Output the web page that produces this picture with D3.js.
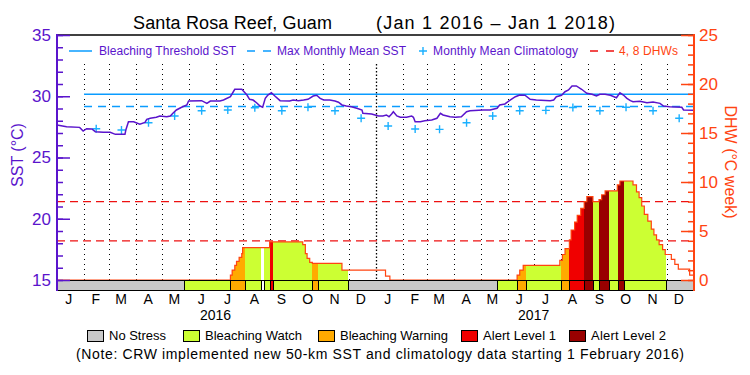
<!DOCTYPE html>
<html>
<head>
<meta charset="utf-8">
<script src="https://cdn.jsdelivr.net/npm/d3@7"></script>
<style>
body { margin: 0; background: #fff; }
svg { display: block; font-family: "Liberation Sans", Arial, sans-serif; }
</style>
</head>
<body>
<svg width="750" height="375"></svg>
<script>
// daily SST
var sstDates = ['2016-01-01','2016-01-12','2016-01-27','2016-01-31','2016-02-04','2016-02-10','2016-02-14','2016-02-23',
  '2016-03-02','2016-03-08','2016-03-19','2016-03-20','2016-03-23','2016-03-29','2016-04-05','2016-04-11','2016-04-13',
  '2016-04-17','2016-04-24','2016-04-28','2016-05-06','2016-05-10','2016-05-13','2016-05-17','2016-05-23','2016-05-29',
  '2016-05-31','2016-06-15','2016-06-21','2016-06-25','2016-07-06','2016-07-10','2016-07-18','2016-07-23','2016-07-31',
  '2016-08-06','2016-08-09','2016-08-13','2016-08-17','2016-08-21','2016-08-24','2016-08-27','2016-08-30','2016-09-03',
  '2016-09-07','2016-09-13','2016-09-24','2016-09-28','2016-10-04','2016-10-10','2016-10-15','2016-10-21','2016-10-25',
  '2016-10-29','2016-11-02','2016-11-09','2016-11-15','2016-11-19','2016-11-23','2016-11-28','2016-12-04','2016-12-10',
  '2016-12-16','2016-12-17','2016-12-27','2016-12-31','2017-01-04','2017-01-09','2017-01-13','2017-01-16','2017-01-19',
  '2017-01-21','2017-01-25','2017-01-29','2017-02-05','2017-02-11','2017-02-13','2017-02-15','2017-02-21','2017-02-26',
  '2017-03-06','2017-03-12','2017-03-16','2017-03-19','2017-03-27','2017-04-02','2017-04-09','2017-04-15','2017-04-19',
  '2017-05-04','2017-05-12','2017-05-20','2017-05-23','2017-05-29','2017-06-04','2017-06-10','2017-06-15','2017-06-21',
  '2017-06-27','2017-07-04','2017-07-20','2017-07-24','2017-07-27','2017-08-02','2017-08-06','2017-08-10','2017-08-14',
  '2017-08-19','2017-08-25','2017-08-31','2017-09-06','2017-09-11','2017-09-15','2017-09-21','2017-09-27','2017-10-04',
  '2017-10-08','2017-10-12','2017-10-16','2017-10-20','2017-10-23','2017-10-31','2017-11-08','2017-11-15','2017-11-23',
  '2017-11-27','2017-12-04','2017-12-18','2017-12-20','2018-01-01']
var sstValues = [27.65,27.51,27.46,27.16,27.35,27.33,27.11,27.06,
  27.06,26.89,26.89,27.24,27.92,27.92,27.71,27.87,28.12,
  28.20,28.28,28.39,28.33,28.39,28.61,28.88,29.10,29.29,
  29.61,29.64,29.42,29.61,29.61,29.69,29.96,30.57,30.57,
  30.10,29.75,29.69,29.47,29.20,29.10,29.83,30.10,30.29,
  30.02,29.64,29.61,29.69,29.64,29.69,29.75,30.02,30.08,
  29.83,29.69,29.69,29.61,29.51,29.29,29.20,29.15,29.02,
  28.88,28.61,28.55,28.47,28.39,28.39,28.47,28.33,28.55,
  28.74,28.39,28.28,28.28,28.39,28.28,27.92,27.92,28.00,
  28.06,28.20,28.61,28.47,28.33,28.28,28.33,28.74,28.82,
  28.88,28.88,29.02,29.29,29.37,29.69,29.96,30.10,30.08,
  29.75,29.69,29.64,29.69,29.96,30.08,30.37,30.51,30.84,
  30.84,30.57,30.24,30.16,30.02,30.16,30.16,30.08,29.88,
  30.29,30.10,29.83,29.64,29.56,29.59,29.47,29.53,29.42,
  29.20,29.15,29.10,28.88,28.85]

// monthly mean climatology (plotted mid-month, Feb 2016 - Dec 2017)
var climDates = ['2016-02-15','2016-03-15','2016-04-15','2016-05-15','2016-06-15','2016-07-15','2016-08-15','2016-09-15',
  '2016-10-15','2016-11-15','2016-12-15','2017-01-15','2017-02-15','2017-03-15','2017-04-15','2017-05-15','2017-06-15',
  '2017-07-15','2017-08-15','2017-09-15','2017-10-15','2017-11-15','2017-12-15']
var climValues = [27.35,27.24,27.84,28.39,28.82,28.88,29.06,28.82,29.10,28.82,28.20,27.57,
  27.33,27.30,27.84,28.39,28.82,28.85,29.08,28.82,29.10,28.82,28.20]

var mmm = 29.17
var threshold = 30.17
var dhwRefs = [4, 8]

// degree heating weeks (step values)
var dhwDates = ['2016-01-01','2016-07-18','2016-07-20','2016-07-23','2016-07-25','2016-07-28','2016-07-31','2016-08-01',
  '2016-09-01','2016-10-09','2016-10-12','2016-10-14','2016-10-17','2016-10-20','2016-11-23','2017-01-12','2017-01-17',
  '2017-06-12','2017-06-15','2017-06-19','2017-07-31','2017-08-03','2017-08-06','2017-08-11','2017-08-13','2017-08-17',
  '2017-08-20','2017-08-24','2017-08-28','2017-08-31','2017-09-07','2017-09-14','2017-09-17','2017-09-21','2017-10-05',
  '2017-10-08','2017-10-23','2017-10-27','2017-10-30','2017-11-02','2017-11-05','2017-11-09','2017-11-13','2017-11-16',
  '2017-11-19','2017-11-22','2017-11-26','2017-11-29','2017-12-06','2017-12-10','2017-12-14','2017-12-27','2018-01-01']
var dhwValues = [0,0.5,1.0,1.5,1.9,2.3,2.7,3.3,
  3.9,3.6,2.7,2.2,1.8,1.7,1.0,0.4,0,
  0.5,1.0,1.5,2.0,2.6,3.2,4.1,5.1,5.9,
  6.6,7.3,8.0,8.5,8.0,8.2,8.7,9.1,9.7,
  10.1,9.7,9.0,8.4,7.55,6.7,6.0,5.2,4.6,
  4.1,3.6,3.1,2.6,2.1,1.6,1.1,0.5,0.5]

// stress level periods (-1 = missing)
var stressStarts = ['2016-01-01','2016-05-26','2016-07-18','2016-08-04','2016-08-22','2016-08-25','2016-09-01','2016-09-05',
  '2016-10-20','2016-10-27','2016-11-30','2017-05-20','2017-06-12','2017-06-22','2017-08-01','2017-08-11','2017-08-28',
  '2017-09-07','2017-09-14','2017-09-26','2017-10-06','2017-10-13','2017-11-30']
var stressLevels = [0,1,2,1,-1,1,3,1,2,1,0,1,2,1,2,3,4,1,4,1,4,1,0]

var stressNames = ['No Stress', 'Bleaching Watch', 'Bleaching Warning', 'Alert Level 1', 'Alert Level 2']
var stressColors = ['#c8c8c8', '#ccff33', '#ffaa00', '#f00000', '#990000']
var monthLetters = ['J','F','M','A','M','J','J','A','S','O','N','D']
var years = ['2016', '2017']

var purple = '#5a14cc'
var orange = '#ff4411'
var blue = '#0a9cff'

var parse = d3.timeParse('%Y-%m-%d')
var svg = d3.select('svg')

var x = d3.scaleTime()
    .domain([new Date(2016, 0, 1), new Date(2018, 0, 1)])
    .range([57, 694])
var y = d3.scaleLinear().domain([15, 35]).range([280, 35])
var yd = d3.scaleLinear().domain([0, 25]).range([280, 35])

var sst = sstDates.map((d, i) => ({ date: parse(d), v: sstValues[i] }))
var clim = climDates.map((d, i) => ({ date: parse(d), v: climValues[i] }))
var dhw = dhwDates.map((d, i) => ({ date: parse(d), v: dhwValues[i] }))
var segs = stressStarts.map((d, i) => ({
    start: parse(d),
    end: i < stressStarts.length - 1 ? parse(stressStarts[i + 1]) : new Date(2018, 0, 1),
    level: stressLevels[i]
}))

// monthly dotted grid
var monthStarts = d3.timeMonth.range(new Date(2016, 1, 1), new Date(2018, 0, 1))
svg.append('g').selectAll('line').data(monthStarts).enter().append('line')
    .attr('x1', d => Math.round(x(d)) + 0.5).attr('x2', d => Math.round(x(d)) + 0.5)
    .attr('y1', 64).attr('y2', 280)
    .attr('stroke', '#000')
    .attr('stroke-width', d => d.getMonth() === 0 ? 1.3 : 1)
    .attr('stroke-dasharray', d => d.getMonth() === 0 ? '1.5,2' : '1,4')

// DHW reference lines
svg.append('g').selectAll('line').data(dhwRefs).enter().append('line')
    .attr('x1', 57).attr('x2', 694)
    .attr('y1', d => yd(d)).attr('y2', d => yd(d))
    .attr('stroke', '#ee1111').attr('stroke-width', 1.3)
    .attr('stroke-dasharray', '8,5')

// DHW fill, coloured by stress level
var area = d3.area()
    .x(d => x(d.date)).y0(yd(0)).y1(d => yd(d.v))
    .curve(d3.curveStepAfter)
var defs = svg.append('defs')
segs.forEach(function (s, i) {
    if (s.level < 1) return
    var x0 = Math.round(x(s.start)), x1 = Math.round(x(s.end))
    defs.append('clipPath').attr('id', 'seg' + i).append('rect')
        .attr('x', x0).attr('width', x1 - x0)
        .attr('y', 30).attr('height', 250)
    svg.append('path').datum(dhw)
        .attr('d', area)
        .attr('fill', stressColors[s.level])
        .attr('shape-rendering', 'crispEdges')
        .attr('clip-path', 'url(#seg' + i + ')')
})
svg.append('path').datum(dhw)
    .attr('d', d3.line().x(d => x(d.date)).y(d => yd(d.v)).curve(d3.curveStepAfter))
    .attr('fill', 'none').attr('stroke', orange).attr('stroke-width', 1.2)

// threshold and MMM lines
var climStart = new Date(2016, 1, 1)
svg.append('line')
    .attr('x1', x(climStart)).attr('x2', x.range()[1])
    .attr('y1', y(threshold)).attr('y2', y(threshold))
    .attr('stroke', blue).attr('stroke-width', 1.5)
svg.append('line')
    .attr('x1', x(climStart)).attr('x2', x.range()[1])
    .attr('y1', y(mmm)).attr('y2', y(mmm))
    .attr('stroke', blue).attr('stroke-width', 1.5)
    .attr('stroke-dasharray', '8,6')

// climatology markers
svg.append('g').selectAll('path').data(clim).enter().append('path')
    .attr('transform', d => 'translate(' + x(d.date) + ',' + y(d.v) + ')')
    .attr('d', 'M-4,0H4M0,-4V4')
    .attr('stroke', '#1ab0ff').attr('stroke-width', 1.4)

// SST line
svg.append('path').datum(sst)
    .attr('d', d3.line().x(d => x(d.date)).y(d => y(d.v)))
    .attr('fill', 'none').attr('stroke', purple).attr('stroke-width', 1.5)

// stress bar
svg.append('g').selectAll('rect').data(segs).enter().append('rect')
    .attr('x', d => Math.round(x(d.start)) + 0.5)
    .attr('width', d => Math.round(x(d.end)) - Math.round(x(d.start)))
    .attr('y', 280.5).attr('height', 10)
    .attr('fill', d => d.level < 0 ? '#fff' : stressColors[d.level])
    .attr('stroke', '#000').attr('stroke-width', 1)

// frame
svg.append('line').attr('x1', 57).attr('x2', 694).attr('y1', 35).attr('y2', 35)
    .attr('stroke', '#000').attr('stroke-width', 1.5)

// axes
function styleAxis(g, color, size) {
    g.select('.domain').remove()
    g.selectAll('line').attr('stroke', color).attr('stroke-width', 1.5)
    g.selectAll('text').attr('fill', color).attr('font-size', size)
        .attr('font-family', '"Liberation Sans", Arial, sans-serif')
}
svg.append('g').attr('transform', 'translate(57,0)')
    .call(d3.axisLeft(y).tickValues(d3.range(15, 36)).tickSize(-6).tickFormat(''))
    .call(g => styleAxis(g, purple, 17))
svg.append('g').attr('transform', 'translate(57,0)')
    .call(d3.axisLeft(y).tickValues([15, 20, 25, 30, 35]).tickSizeInner(-13).tickSizeOuter(0).tickPadding(6))
    .call(g => styleAxis(g, purple, 17))
svg.append('line').attr('x1', 57).attr('x2', 57).attr('y1', 34).attr('y2', 291)
    .attr('stroke', purple).attr('stroke-width', 2)

svg.append('g').attr('transform', 'translate(694,0)')
    .call(d3.axisRight(yd).tickValues(d3.range(0, 26)).tickSize(-6).tickFormat(''))
    .call(g => styleAxis(g, orange, 17))
svg.append('g').attr('transform', 'translate(694,0)')
    .call(d3.axisRight(yd).tickValues([0, 5, 10, 15, 20, 25]).tickSizeInner(-13).tickSizeOuter(0).tickPadding(5))
    .call(g => styleAxis(g, orange, 17))
svg.append('line').attr('x1', 694).attr('x2', 694).attr('y1', 34).attr('y2', 291)
    .attr('stroke', orange).attr('stroke-width', 2)

// month letters and years
var midMonths = d3.timeMonth.range(new Date(2016, 0, 1), new Date(2018, 0, 1)).map(d => d3.timeDay.offset(d, 13))
svg.append('g').attr('transform', 'translate(0,290)')
    .call(d3.axisBottom(x).tickValues(midMonths).tickSize(0).tickPadding(4)
        .tickFormat(d => monthLetters[d.getMonth()]))
    .call(g => styleAxis(g, '#000', 14))
svg.append('g').selectAll('text').data(years).enter().append('text')
    .attr('x', d => x(new Date(+d, 6, 1))).attr('y', 320)
    .attr('text-anchor', 'middle').attr('font-size', 14).text(d => d)

// axis titles
svg.append('text').attr('transform', 'translate(23,155) rotate(-90)')
    .attr('text-anchor', 'middle').attr('font-size', 16).attr('fill', purple)
    .text('SST (°C)')
svg.append('text').attr('transform', 'translate(725,162) rotate(90)')
    .attr('text-anchor', 'middle').attr('font-size', 16).attr('fill', orange)
    .text('DHW (°C week)')

// title
svg.append('text').attr('x', 133).attr('y', 29).attr('font-size', 18)
    .attr('textLength', 199).text('Santa Rosa Reef, Guam')
svg.append('text').attr('x', 376).attr('y', 29).attr('font-size', 18)
    .attr('textLength', 239).text('(Jan 1 2016 \u2013 Jan 1 2018)')

// top legend
var lg = svg.append('g').attr('font-size', 12)
lg.append('line').attr('x1', 69).attr('x2', 92).attr('y1', 51).attr('y2', 51)
    .attr('stroke', blue).attr('stroke-width', 1.5)
lg.append('text').attr('x', 99).attr('y', 55).attr('fill', purple).attr('textLength', 137)
    .text('Bleaching Threshold SST')
lg.append('line').attr('x1', 247).attr('x2', 271).attr('y1', 51).attr('y2', 51)
    .attr('stroke', blue).attr('stroke-width', 1.5).attr('stroke-dasharray', '8,8')
lg.append('text').attr('x', 277).attr('y', 55).attr('fill', purple).attr('textLength', 129)
    .text('Max Monthly Mean SST')
lg.append('path').attr('d', 'M419,51H427M423,47V55')
    .attr('stroke', '#1ab0ff').attr('stroke-width', 1.4)
lg.append('text').attr('x', 433).attr('y', 55).attr('fill', purple).attr('textLength', 145)
    .text('Monthly Mean Climatology')
lg.append('line').attr('x1', 590).attr('x2', 614).attr('y1', 51).attr('y2', 51)
    .attr('stroke', '#ee1111').attr('stroke-width', 1.5).attr('stroke-dasharray', '8,8')
lg.append('text').attr('x', 619).attr('y', 55).attr('fill', orange).attr('textLength', 59)
    .text('4, 8 DHWs')

// bottom legend
var boxX = [87, 183, 318, 461, 569]
var nameLen = [57, 97, 108, 73, 75]
var bl = svg.append('g').selectAll('g').data(stressNames).enter().append('g')
bl.append('rect')
    .attr('x', (d, i) => boxX[i] + 0.5).attr('y', 330.5).attr('width', 16).attr('height', 11)
    .attr('fill', (d, i) => stressColors[i]).attr('stroke', '#000')
bl.append('text')
    .attr('x', (d, i) => boxX[i] + 22).attr('y', 340).attr('font-size', 13)
    .attr('textLength', (d, i) => nameLen[i])
    .text(d => d)

svg.append('text').attr('x', 76).attr('y', 359).attr('font-size', 14).attr('textLength', 608)
    .text('(Note: CRW implemented new 50-km SST and climatology data starting 1 February 2016)')
</script>
</body>
</html>
